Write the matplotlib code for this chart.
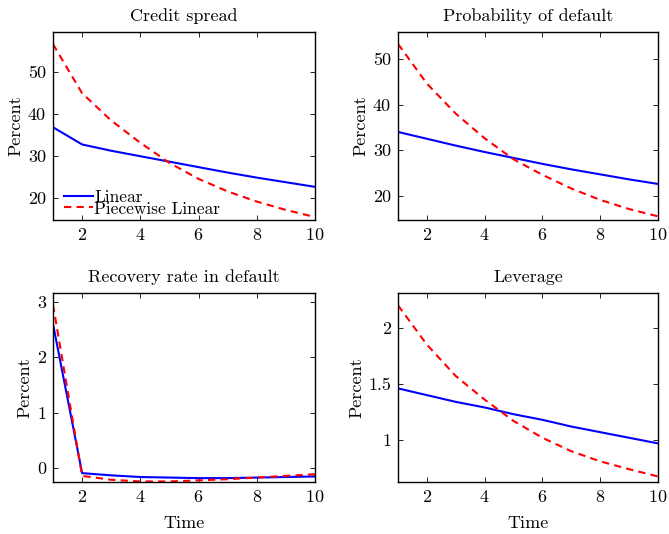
import matplotlib
matplotlib.use("Agg")
import matplotlib.pyplot as plt
import numpy as np

plt.rcParams["font.family"] = ["cmr10", "DejaVu Serif"]
plt.rcParams["axes.formatter.use_mathtext"] = True
plt.rcParams["mathtext.fontset"] = "cm"

time = np.arange(1, 11)

# panel data
spread_lin = [36.9, 32.8, 31.3, 30.0, 28.7, 27.4, 26.1, 24.9, 23.8, 22.7]
spread_pw = [56.7, 45.0, 38.5, 33.2, 28.4, 24.6, 21.6, 19.2, 17.2, 15.5]

pd_lin = [34.0, 32.5, 31.0, 29.6, 28.3, 27.0, 25.8, 24.7, 23.6, 22.6]
pd_pw = [53.3, 44.6, 38.0, 32.6, 28.0, 24.6, 21.6, 19.1, 17.1, 15.5]

rec_lin = [2.60, -0.09, -0.13, -0.16, -0.17, -0.18, -0.18, -0.17, -0.16, -0.15]
rec_pw = [2.95, -0.14, -0.21, -0.24, -0.24, -0.22, -0.20, -0.17, -0.14, -0.11]

lev_lin = [1.46, 1.40, 1.34, 1.29, 1.23, 1.18, 1.12, 1.07, 1.02, 0.97]
lev_pw = [2.20, 1.85, 1.57, 1.36, 1.17, 1.02, 0.90, 0.81, 0.74, 0.675]

titles = ["Credit spread", "Probability of default",
          "Recovery rate in default", "Leverage"]
series = [(spread_lin, spread_pw), (pd_lin, pd_pw),
          (rec_lin, rec_pw), (lev_lin, lev_pw)]
ylims = [(14.8, 59.6), (14.7, 55.9), (-0.25, 3.16), (0.626, 2.31)]
yticks = [[20, 30, 40, 50], [20, 30, 40, 50], [0, 1, 2, 3], [1, 1.5, 2]]
yticklabels = [["20", "30", "40", "50"], ["20", "30", "40", "50"],
               ["0", "1", "2", "3"], ["1", "1.5", "2"]]

fs = 13

fig = plt.figure(figsize=(6.69, 5.34), dpi=100)
W, H = 669, 534
boxes = [(53, 32, 315, 220), (398, 32, 658, 220),
         (53, 293, 315, 482), (398, 293, 658, 482)]

for i, (x0, y0, x1, y1) in enumerate(boxes):
    ax = fig.add_axes([x0 / W, 1 - y1 / H, (x1 - x0) / W, (y1 - y0) / H])
    lin, pw = series[i]
    ax.plot(time, lin, color="#0000ff", lw=1.5, label="Linear")
    ax.plot(time, pw, color="#ff0000", lw=1.5, ls=(0, (3.5, 2.5)),
            label="Piecewise Linear")
    ax.set_xlim(1, 10)
    ax.set_ylim(*ylims[i])
    ax.set_xticks([2, 4, 6, 8, 10])
    ax.set_yticks(yticks[i])
    ax.set_yticklabels(yticklabels[i])
    ax.tick_params(direction="in", top=True, right=True, length=3.5,
                   width=0.6, labelsize=fs, pad=5)
    for s in ax.spines.values():
        s.set_linewidth(1.0)
    ax.set_title(titles[i], fontsize=fs, pad=8)
    ax.set_ylabel("Percent", fontsize=fs, labelpad=3)
    if i >= 2:
        ax.set_xlabel("Time", fontsize=fs, labelpad=8)
    if i == 0:
        ax.legend(loc="lower left", frameon=False, fontsize=12.5,
                  handlelength=1.65, handletextpad=0.08, labelspacing=-0.2,
                  borderaxespad=0.0, borderpad=0.2,
                  bbox_to_anchor=(0.03, 0.0))

fig.savefig("out.png", dpi=100)
